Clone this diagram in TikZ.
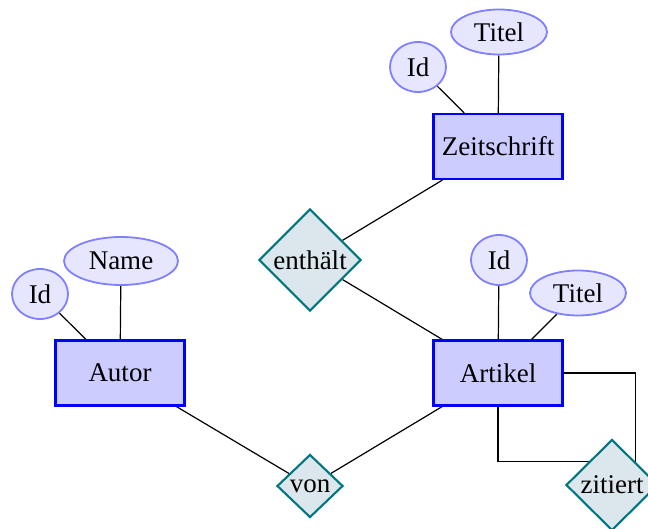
\documentclass[tikz,border=0pt]{standalone}
\usepackage{fontspec}
\setmainfont{Liberation Serif}
\usetikzlibrary{shapes.geometric,backgrounds}
\definecolor{relfill}{RGB}{219,231,236}
\definecolor{relline}{RGB}{0,118,128}
\definecolor{entfill}{RGB}{204,204,255}
\definecolor{attrfill}{RGB}{230,230,255}
\definecolor{attrline}{RGB}{128,128,255}
\begin{document}
\begin{tikzpicture}[x=1pt,y=-1pt,
  entity/.style={rectangle,draw=blue,fill=entfill,line width=2.1pt,
    minimum width=129pt,minimum height=65pt,inner sep=0pt},
  attribute/.style={ellipse,draw=attrline,fill=attrfill,line width=1.8pt,inner sep=0pt},
  relation/.style={diamond,draw=relline,fill=relfill,line width=2.1pt,inner sep=0pt,aspect=1},
  link/.style={line width=1.2pt},
  font=\fontsize{27}{31}\selectfont]
\useasboundingbox (0,0) rectangle (648,529);

% entities
\node[entity] (zs) at (498,146.5) {Zeitschrift};
\node[entity] (art) at (498,373) {Artikel};
\node[entity] (autor) at (120,373) {Autor};

% attributes
\node[attribute,minimum width=96pt,minimum height=45pt] (zstitel) at (499,32) {Titel};
\node[attribute,minimum width=56pt,minimum height=50pt] (zsid) at (418,67) {Id};
\node[attribute,minimum width=56pt,minimum height=50pt] (artid) at (499,260) {Id};
\node[attribute,minimum width=96pt,minimum height=45pt] (arttitel) at (578,293) {Titel};
\node[attribute,minimum width=114pt,minimum height=48pt] (name) at (121,261) {Name};
\node[attribute,minimum width=56pt,minimum height=50pt] (autorid) at (40,294) {Id};

% relationships
\node[relation,minimum width=102pt,minimum height=102pt] (enth) at (310,260) {enthält};
\node[relation,minimum width=66pt,minimum height=63pt] (von) at (310,486) {von};
\node[relation,minimum width=92pt,minimum height=91pt] (zit) at (612,485) {zitiert};

% connectors
\begin{scope}[on background layer,every path/.style={link}]
  \draw (zstitel) -- (zs);
  \draw (zsid) -- (zs);
  \draw (enth) -- (zs);
  \draw (enth) -- (art);
  \draw (artid) -- (art);
  \draw (arttitel) -- (art);
  \draw (name) -- (autor);
  \draw (autorid) -- (autor);
  \draw (autor) -- (von);
  \draw (art) -- (von);
  \draw (art.east) -| (zit.north east);
  \draw (art.south) |- (zit.north east);
\end{scope}
\end{tikzpicture}
\end{document}
